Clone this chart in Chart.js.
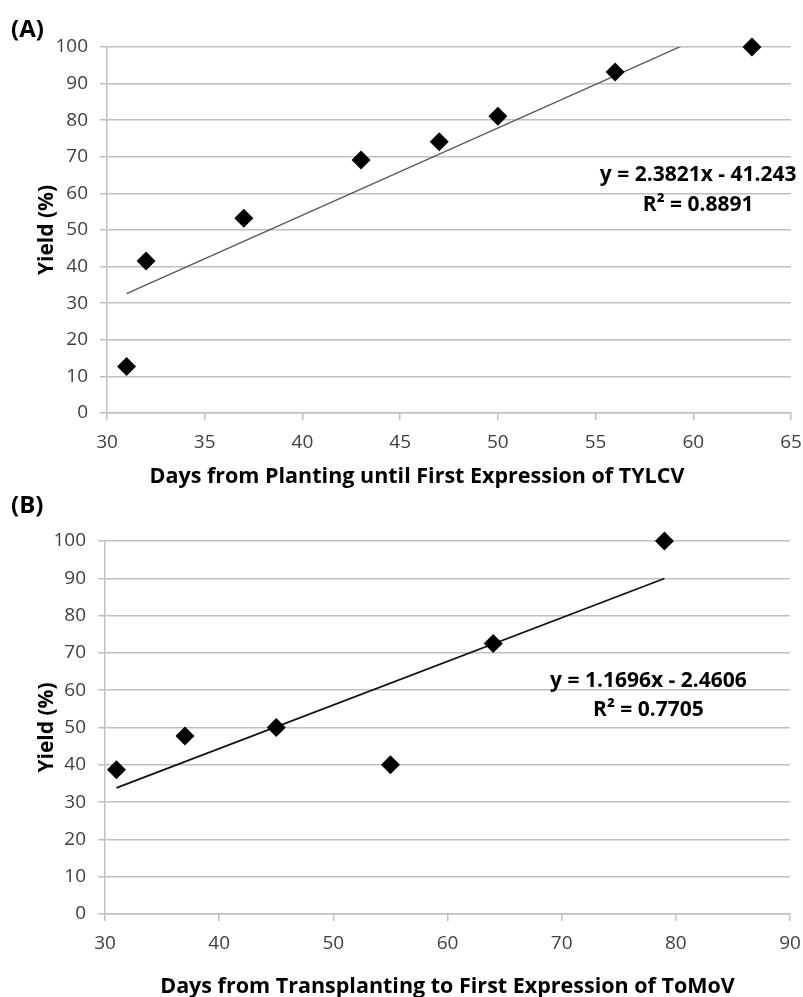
<!DOCTYPE html>
<html>
<head>
<meta charset="utf-8">
<script src="https://cdn.jsdelivr.net/npm/chart.js@4"></script>
<style>
  html, body { margin: 0; padding: 0; background: #fff; }
  .panel { position: absolute; left: 0; width: 803px; }
  #wrapA { top: 0; height: 490px; }
  #wrapB { top: 490px; height: 507px; }
</style>
</head>
<body>
<div class="panel" id="wrapA"><canvas id="chartA"></canvas></div>
<div class="panel" id="wrapB"><canvas id="chartB"></canvas></div>
<script>
// panel A: TYLCV
const daysA = [31, 32, 37, 43, 47, 50, 56, 63];
const yieldA = [12.7, 41.5, 53.2, 69.1, 74.1, 81.1, 93.2, 100];
const fitA = { slope: 2.3821, intercept: -41.243, r2: "0.8891" };
const xTicksA = { min: 30, max: 65, step: 5 };

// panel B: ToMoV
const daysB = [31, 37, 45, 55, 64, 79];
const yieldB = [38.7, 47.7, 50, 40, 72.5, 100];
const fitB = { slope: 1.1696, intercept: -2.4606, r2: "0.7705" };
const xTicksB = { min: 30, max: 90, step: 10 };

const yTicks = { min: 0, max: 100, step: 10 };

const FONT = "'Open Sans', sans-serif";
const GRID = "#bfbfbf";
const TICK = "#404040";

// small text drawer: panel letter, x axis title, trendline equation
const textPlugin = {
  id: "panelText",
  afterDraw(chart, args, o) {
    const { ctx, chartArea, scales } = chart;
    ctx.save();
    ctx.fillStyle = "#000";
    ctx.textBaseline = "middle";

    ctx.font = `bold 24px ${FONT}`;
    ctx.textAlign = "left";
    ctx.fillText(o.letter, 11, o.letterY);

    ctx.font = `bold 21.5px ${FONT}`;
    ctx.textAlign = "center";
    ctx.fillText(o.xTitle, (chartArea.left + chartArea.right) / 2 + o.xTitleDx, o.xTitleY);

    ctx.font = `bold 21px ${FONT}`;
    const ex = scales.x.getPixelForValue(o.eqAt.x);
    o.eqLines.forEach((line, i) => {
      ctx.fillText(line, ex, scales.y.getPixelForValue(o.eqAt.y[i]));
    });
    ctx.restore();
  },
};

function fmtFit(f) {
  const sign = f.intercept < 0 ? "-" : "+";
  return [`y = ${f.slope}x ${sign} ${Math.abs(f.intercept)}`, `R² = ${f.r2}`];
}

function makeChart(id, cfg) {
  const xs = cfg.days;
  const lo = Math.min(...xs);
  const hi = Math.max(...xs);
  const trend = [lo, hi].map((x) => ({ x, y: cfg.fit.slope * x + cfg.fit.intercept }));

  return new Chart(document.getElementById(id), {
    type: "scatter",
    data: {
      datasets: [
        {
          label: "trend",
          type: "line",
          data: trend,
          borderColor: cfg.trendColor,
          borderWidth: cfg.trendWidth,
          pointRadius: 0,
          fill: false,
          order: 2,
        },
        {
          label: "yield",
          data: xs.map((x, i) => ({ x, y: cfg.yields[i] })),
          pointStyle: "rectRot",
          pointRadius: 9.5,
          backgroundColor: "#000",
          borderColor: "#000",
          borderWidth: 0,
          clip: false,
          order: 1,
        },
      ],
    },
    options: {
      responsive: true,
      maintainAspectRatio: false,
      animation: false,
      events: [],
      layout: { padding: cfg.padding },
      plugins: {
        legend: { display: false },
        tooltip: { enabled: false },
        panelText: cfg.text,
      },
      scales: {
        x: {
          type: "linear",
          min: cfg.xTicks.min,
          max: cfg.xTicks.max,
          afterFit: (s) => {
            s.height = cfg.xHeight;
            // keep the edge labels from pushing the plot area in
            s.paddingLeft = 0;
            s.paddingRight = 0;
          },
          ticks: {
            stepSize: cfg.xTicks.step,
            color: TICK,
            font: { family: FONT, size: 19 },
            padding: 11,
            maxRotation: 0,
            autoSkip: false,
          },
          grid: { drawOnChartArea: false, color: GRID, lineWidth: 1.5, tickLength: 7 },
          border: { color: GRID, width: 1.5 },
        },
        y: {
          min: yTicks.min,
          max: yTicks.max,
          afterFit: (s) => { s.width = cfg.yWidth; },
          ticks: {
            stepSize: yTicks.step,
            color: TICK,
            font: { family: FONT, size: 19 },
            padding: 12,
          },
          grid: { color: GRID, lineWidth: 1.5, tickLength: 7 },
          border: { color: GRID, width: 1.5 },
          title: {
            display: true,
            text: "Yield (%)",
            color: "#000",
            font: { family: FONT, size: 21, weight: "bold" },
            padding: { top: 34, bottom: 0 },
          },
        },
      },
    },
    plugins: [textPlugin],
  });
}

makeChart("chartA", {
  days: daysA,
  yields: yieldA,
  fit: fitA,
  xTicks: xTicksA,
  trendColor: "#555",
  trendWidth: 1.3,
  padding: { top: 47, right: 12, left: 0, bottom: 0 },
  yWidth: 107,
  xHeight: 77,
  text: {
    letter: "(A)",
    letterY: 30,
    xTitle: "Days from Planting until First Expression of TYLCV",
    xTitleDx: -32,
    xTitleY: 477,
    eqLines: fmtFit(fitA),
    eqAt: { x: 60.25, y: [65.0, 56.8] },
  },
});

makeChart("chartB", {
  days: daysB,
  yields: yieldB,
  fit: fitB,
  xTicks: xTicksB,
  trendColor: "#111",
  trendWidth: 1.8,
  padding: { top: 51, right: 13, left: 0, bottom: 0 },
  yWidth: 105,
  xHeight: 83,
  text: {
    letter: "(B)",
    letterY: 16,
    xTitle: "Days from Transplanting to First Expression of ToMoV",
    xTitleDx: 0,
    xTitleY: 497,
    eqLines: fmtFit(fitB),
    eqAt: { x: 77.6, y: [62.5, 54.6] },
  },
});
</script>
</body>
</html>
